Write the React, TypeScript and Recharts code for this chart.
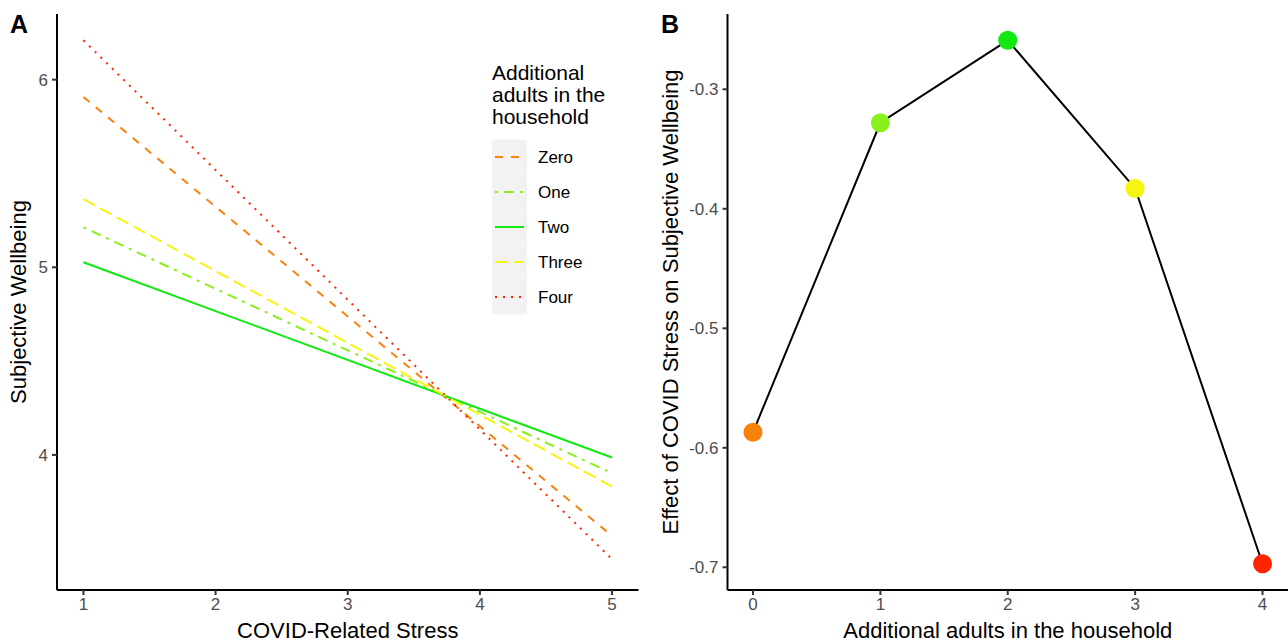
import { LineChart, Line, XAxis, YAxis, Label } from "recharts"

// Panel A: predicted wellbeing at the two ends of the stress range
const stressLevels = [1, 5]
const zeroAdults = [5.908, 3.568]
const oneAdult = [5.213, 3.902]
const twoAdults = [5.027, 3.986]
const threeAdults = [5.363, 3.831]
const fourAdults = [6.21, 3.444]
const stressTicks = [1, 2, 3, 4, 5]
const wellbeingTicks = [4, 5, 6]

// Panel B: slope of stress for each household size
const adultCounts = [0, 1, 2, 3, 4]
const stressEffect = [-0.587, -0.328, -0.259, -0.383, -0.697]
const effectTicks = [-0.7, -0.6, -0.5, -0.4, -0.3]

const groupLabels = ["Zero", "One", "Two", "Three", "Four"]
const groupKeys = ["zero", "one", "two", "three", "four"]
const COLORS = ["#F8820C", "#88F01A", "#12E812", "#F5F511", "#FF2400"]
const DASHES = ["8 8", "3 6 10 6", undefined, "13 6", "2 6"]

const FONT = '"Liberation Sans", Arial, Helvetica, sans-serif'
const TICK = { fill: "#4D4D4D", fontSize: 17 }

const seriesA = [zeroAdults, oneAdult, twoAdults, threeAdults, fourAdults]
const tableA = stressLevels.map((s, i) => {
  const row: any = { stress: s }
  groupKeys.forEach((k, g) => (row[k] = seriesA[g][i]))
  return row
})
const tableB = adultCounts.map((n, i) => ({ adults: n, effect: stressEffect[i] }))

export default function App() {
  return (
    <div style={{ position: "absolute", left: 0, top: 0, width: 1288, height: 643, background: "#fff", fontFamily: FONT }}>
      <div style={{ position: "absolute", left: 0, top: 0 }}>
        <LineChart width={645} height={643} data={tableA} margin={{ top: 14, right: 6.5, bottom: 0, left: 0 }}>
          <XAxis
            dataKey="stress"
            type="number"
            domain={[0.8, 5.2]}
            ticks={stressTicks}
            height={53}
            tickSize={5}
            tickMargin={3}
            tick={TICK}
            axisLine={{ stroke: "#000", strokeWidth: 2 }}
            tickLine={{ stroke: "#333", strokeWidth: 2 }}
          >
            <Label value="COVID-Related Stress" position="insideBottom" offset={5} style={{ fontSize: 22, fill: "#000" }} />
          </XAxis>
          <YAxis
            type="number"
            domain={[3.28, 6.35]}
            ticks={wellbeingTicks}
            width={57}
            tickSize={5}
            tickMargin={4}
            tick={TICK}
            axisLine={{ stroke: "#000", strokeWidth: 2 }}
            tickLine={{ stroke: "#333", strokeWidth: 2 }}
          >
            <Label
              value="Subjective Wellbeing"
              angle={-90}
              position="insideLeft"
              offset={18}
              style={{ fontSize: 22, fill: "#000", textAnchor: "middle" }}
            />
          </YAxis>
          {groupKeys.map((k, g) => (
            <Line
              key={k}
              type="linear"
              dataKey={k}
              stroke={COLORS[g]}
              strokeWidth={2}
              strokeDasharray={DASHES[g]}
              dot={false}
              activeDot={false}
              isAnimationActive={false}
            />
          ))}
        </LineChart>
      </div>

      <div style={{ position: "absolute", left: 650, top: 0 }}>
        <LineChart width={638} height={643} data={tableB} margin={{ top: 14, right: 0, bottom: 0, left: 0 }}>
          <XAxis
            dataKey="adults"
            type="number"
            domain={[-0.2, 4.2]}
            ticks={adultCounts}
            height={53}
            tickSize={5}
            tickMargin={3}
            tick={TICK}
            axisLine={{ stroke: "#000", strokeWidth: 2 }}
            tickLine={{ stroke: "#333", strokeWidth: 2 }}
          >
            <Label value="Additional adults in the household" position="insideBottom" offset={5} style={{ fontSize: 22, fill: "#000" }} />
          </XAxis>
          <YAxis
            type="number"
            domain={[-0.719, -0.237]}
            ticks={effectTicks}
            width={77.5}
            tickSize={5}
            tickMargin={4}
            tick={TICK}
            axisLine={{ stroke: "#000", strokeWidth: 2 }}
            tickLine={{ stroke: "#333", strokeWidth: 2 }}
          >
            <Label
              value="Effect of COVID Stress on Subjective Wellbeing"
              angle={-90}
              position="insideLeft"
              offset={20}
              style={{ fontSize: 22, fill: "#000", textAnchor: "middle" }}
            />
          </YAxis>
          <Line
            type="linear"
            dataKey="effect"
            stroke="#000"
            strokeWidth={2}
            activeDot={false}
            isAnimationActive={false}
            dot={(p: any) => <circle key={p.index} cx={p.cx} cy={p.cy} r={9.5} fill={COLORS[p.index]} />}
          />
        </LineChart>
      </div>

      <svg width={1288} height={643} style={{ position: "absolute", left: 0, top: 0, pointerEvents: "none" }}>
        <text x={10} y={33} fontSize={25} fontWeight="bold" fill="#000">A</text>
        <text x={661} y={33} fontSize={25} fontWeight="bold" fill="#000">B</text>
        <g fontSize={21} fill="#000">
          <text x={492} y={80}>Additional</text>
          <text x={492} y={102}>adults in the</text>
          <text x={492} y={124}>household</text>
        </g>
        {groupLabels.map((lab, g) => {
          const top = 139.5 + g * 35
          return (
            <g key={lab}>
              <rect x={492} y={top} width={35} height={35} fill="#F2F2F2" />
              <line x1={495} x2={524} y1={top + 17.5} y2={top + 17.5} stroke={COLORS[g]} strokeWidth={2} strokeDasharray={DASHES[g]} />
              <text x={538} y={top + 23.5} fontSize={17} fill="#000">{lab}</text>
            </g>
          )
        })}
      </svg>
    </div>
  )
}
